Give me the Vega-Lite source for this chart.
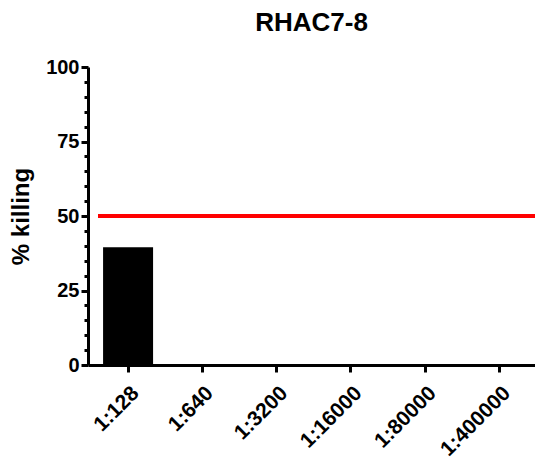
{
  "$schema": "https://vega.github.io/schema/vega-lite/v6.json",
  "width": 447,
  "height": 298,
  "autosize": {"type": "none"},
  "padding": {"left": 88, "top": 67, "right": 0, "bottom": 96},
  "background": "white",
  "title": {
    "text": "RHAC7-8",
    "font": "Liberation Sans",
    "fontSize": 26,
    "fontWeight": "bold",
    "color": "black",
    "offset": 21
  },
  "config": {
    "view": {"stroke": null},
    "font": "Liberation Sans",
    "axisY": {
      "title": "% killing",
      "titleFont": "Liberation Sans",
      "titleFontSize": 24,
      "titleFontWeight": "bold",
      "titleColor": "black",
      "titlePadding": 12,
      "labelOverlap": false,
      "grid": false,
      "domainColor": "black",
      "domainWidth": 3,
      "tickColor": "black",
      "tickWidth": 3,
      "labelFont": "Liberation Sans",
      "labelFontSize": 20,
      "labelFontWeight": "bold",
      "labelColor": "black",
      "labelPadding": 2
    }
  },
  "data": {
    "values": [
      {"dilution": "1:128", "killing": 39.5},
      {"dilution": "1:640", "killing": 0},
      {"dilution": "1:3200", "killing": 0},
      {"dilution": "1:16000", "killing": 0},
      {"dilution": "1:80000", "killing": 0},
      {"dilution": "1:400000", "killing": 0}
    ]
  },
  "layer": [
    {
      "mark": {"type": "bar", "color": "black"},
      "encoding": {
        "x": {
          "field": "dilution",
          "type": "nominal",
          "sort": null,
          "scale": {"paddingInner": 0.327, "paddingOuter": 0.172, "align": 0.59},
          "axis": {
            "title": null,
            "domainColor": "black",
            "domainWidth": 3,
            "tickColor": "black",
            "tickWidth": 3,
            "tickSize": 7,
            "labelAngle": -45,
            "labelFont": "Liberation Sans",
            "labelFontSize": 21,
            "labelFontWeight": "bold",
            "labelColor": "black",
            "labelPadding": 10,
            "labelOverlap": false
          }
        },
        "y": {
          "field": "killing",
          "type": "quantitative",
          "title": "% killing",
          "scale": {"domain": [0, 100], "nice": false},
          "axis": {
            "values": [0, 5, 10, 15, 20, 25, 30, 35, 40, 45, 50, 55, 60, 65, 70, 75, 80, 85, 90, 95, 100],
            "labelExpr": "datum.value % 25 === 0 ? datum.label : ''",
            "tickSize": {"condition": {"test": "datum.value % 25 === 0", "value": 7}, "value": 4}
          }
        }
      }
    },
    {
      "mark": {"type": "rule", "color": "#ff0000", "strokeWidth": 4},
      "encoding": {
        "x": {"datum": "1:128", "bandPosition": -0.1},
        "x2": {"value": "width"},
        "y": {
          "datum": 50,
          "type": "quantitative",
          "title": "% killing",
          "axis": {
            "values": [0, 5, 10, 15, 20, 25, 30, 35, 40, 45, 50, 55, 60, 65, 70, 75, 80, 85, 90, 95, 100],
            "labelExpr": "datum.value % 25 === 0 ? datum.label : ''",
            "tickSize": {"condition": {"test": "datum.value % 25 === 0", "value": 7}, "value": 4}
          }
        }
      }
    }
  ]
}
